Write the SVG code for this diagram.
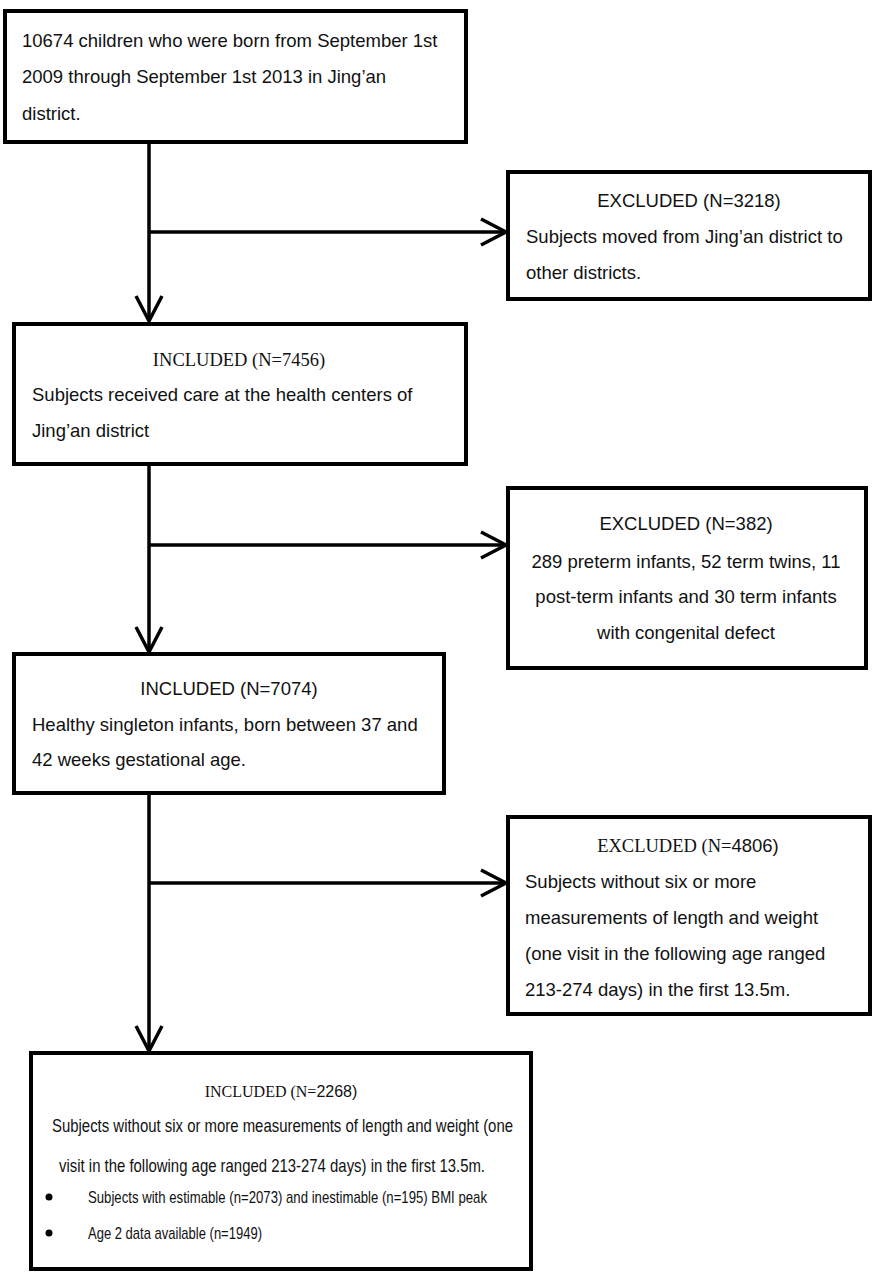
<svg xmlns="http://www.w3.org/2000/svg" width="875" height="1280" viewBox="0 0 875 1280">
<defs>
<style>
.box{fill:#fff;stroke:#000;stroke-width:4}
.t{font-family:"Liberation Sans",Arial,sans-serif;font-size:18.5px;fill:#111}
.s{font-family:"Liberation Serif","Times New Roman",serif;font-size:18.5px;fill:#111}
.c{text-anchor:middle}
.ln{fill:none;stroke:#000;stroke-width:3.5}
</style>
<marker id="chev" markerUnits="userSpaceOnUse" markerWidth="32" markerHeight="32" viewBox="-28 -16 32 32" refX="0" refY="0" orient="auto" overflow="visible">
<path d="M-25,-13 L0,0 L-25,13" fill="none" stroke="#000" stroke-width="3.5"/>
</marker>
</defs>
<rect width="875" height="1280" fill="#fff"/>
<g id="connectors">
<line class="ln" x1="149" y1="142" x2="149" y2="321" marker-end="url(#chev)"/>
<line class="ln" x1="149" y1="232" x2="506" y2="232" marker-end="url(#chev)"/>
<line class="ln" x1="149" y1="464" x2="149" y2="652" marker-end="url(#chev)"/>
<line class="ln" x1="149" y1="545" x2="506" y2="545" marker-end="url(#chev)"/>
<line class="ln" x1="149" y1="793" x2="149" y2="1051" marker-end="url(#chev)"/>
<line class="ln" x1="149" y1="883" x2="506" y2="883" marker-end="url(#chev)"/>
</g>
<g id="n1">
<rect class="box" x="5" y="11" width="461" height="131"/>
<text class="t" x="22" y="47">10674 children who were born from September 1st</text>
<text class="t" x="22" y="83">2009 through September 1st 2013 in Jing’an</text>
<text class="t" x="22" y="120">district.</text>
</g>
<g id="ex1">
<rect class="box" x="508" y="172" width="362" height="127"/>
<text class="t c" x="689" y="207">EXCLUDED (N=3218)</text>
<text class="t" x="526" y="243">Subjects moved from Jing’an district to</text>
<text class="t" x="526" y="279">other districts.</text>
</g>
<g id="in1">
<rect class="box" x="14" y="324" width="452" height="140"/>
<text class="s c" x="239" y="366">INCLUDED (N=7456)</text>
<text class="t" x="32" y="401">Subjects received care at the health centers of</text>
<text class="t" x="32" y="437">Jing’an district</text>
</g>
<g id="ex2">
<rect class="box" x="508" y="488" width="358" height="180"/>
<text class="t c" x="686" y="530">EXCLUDED (N=382)</text>
<text class="t c" x="686" y="568">289 preterm infants, 52 term twins, 11</text>
<text class="t c" x="686" y="603">post-term infants and 30 term infants</text>
<text class="t c" x="686" y="639">with congenital defect</text>
</g>
<g id="in2">
<rect class="box" x="14" y="654" width="430" height="139"/>
<text class="t c" x="229" y="695">INCLUDED (N=7074)</text>
<text class="t" x="32" y="731">Healthy singleton infants, born between 37 and</text>
<text class="t" x="32" y="766">42 weeks gestational age.</text>
</g>
<g id="ex3">
<rect class="box" x="508" y="817" width="362" height="197"/>
<text class="s c" x="688" y="852">EXCLUDED (N=<tspan class="t">4806)</tspan></text>
<text class="t" x="525" y="888">Subjects without six or more</text>
<text class="t" x="525" y="924">measurements of length and weight</text>
<text class="t" x="525" y="960">(one visit in the following age ranged</text>
<text class="t" x="525" y="996">213-274 days) in the first 13.5m.</text>
</g>
<g id="in3">
<rect class="box" x="31" y="1053" width="500" height="216"/>
<text class="s c" x="281" y="1097" style="font-size:16px">INCLUDED (N=<tspan class="t" style="font-size:16px">2268)</tspan></text>
<text class="t" x="52" y="1132" textLength="461" lengthAdjust="spacingAndGlyphs">Subjects without six or more measurements of length and weight (one</text>
<text class="t" x="59" y="1172" textLength="426" lengthAdjust="spacingAndGlyphs">visit in the following age ranged 213-274 days) in the first 13.5m.</text>
<circle cx="49" cy="1197" r="3.5" fill="#000"/>
<text class="t" x="88" y="1203" style="font-size:17px" textLength="399" lengthAdjust="spacingAndGlyphs">Subjects with estimable (n=2073) and inestimable (n=195) BMI peak</text>
<circle cx="49" cy="1233" r="3.5" fill="#000"/>
<text class="t" x="88" y="1239" style="font-size:17px" textLength="174" lengthAdjust="spacingAndGlyphs">Age 2 data available (n=1949)</text>
</g>
</svg>
